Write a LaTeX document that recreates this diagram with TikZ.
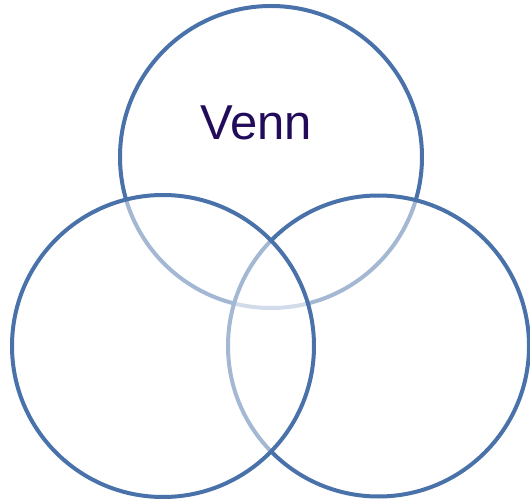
\documentclass[tikz,border=0pt]{standalone}
\usepackage{fontspec}
\setmainfont{Liberation Sans}
\definecolor{ring}{HTML}{4A72AA}
\definecolor{venntext}{HTML}{230B5C}
\begin{document}
\begin{tikzpicture}[x=1pt,y=1pt,
  vcircle/.style={draw=ring, line width=4pt, fill=white, fill opacity=0.5, draw opacity=1}]
\useasboundingbox (0,0) rectangle (530,501);
\fill[white] (0,0) rectangle (530,501);
\node[vcircle, circle, minimum size=302pt, inner sep=0pt] (top) at (271,344) {};
\node[vcircle, circle, minimum size=301pt, inner sep=0pt] (right) at (378.5,155) {};
\node[vcircle, circle, minimum size=302pt, inner sep=0pt] (left) at (163,155) {};
\node[text=venntext, font=\fontsize{49}{58}\selectfont, anchor=base] (label) at (256,361) {Venn};
\end{tikzpicture}
\end{document}
